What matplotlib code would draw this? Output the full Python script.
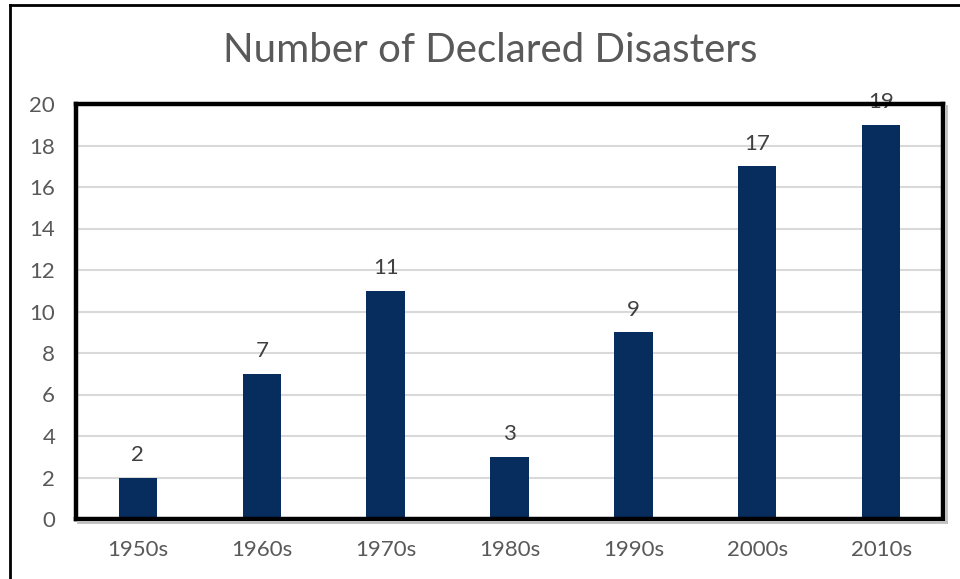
import matplotlib
matplotlib.use("Agg")
import matplotlib.pyplot as plt
from matplotlib.lines import Line2D
import numpy as np

categories = ["1950s", "1960s", "1970s", "1980s", "1990s", "2000s", "2010s"]
values = [2, 7, 11, 3, 9, 17, 19]
yticks = [0, 2, 4, 6, 8, 10, 12, 14, 16, 18, 20]

plt.rcParams['font.family'] = ['Lato', 'DejaVu Sans']

fig = plt.figure(figsize=(9.6, 5.79), dpi=100)
ax = fig.add_axes([76/960, 60/579, 867/960, 415/579])

x = np.arange(len(categories))
ax.bar(x, values, width=0.31, color="#062D5E", zorder=3)
ax.set_xlim(-0.5, len(categories) - 0.5)
ax.set_ylim(0, 20)
ax.set_yticks(yticks)
ax.set_yticklabels([str(t) for t in yticks])
ax.set_xticks(x)
ax.set_xticklabels(categories)
ax.tick_params(axis='both', length=0, labelsize=16, labelcolor="#595959")
ax.tick_params(axis='y', pad=15)
ax.tick_params(axis='x', pad=15)
ax.grid(axis='y', color="#D9D9D9", linewidth=1.5, zorder=0)
ax.set_axisbelow(True)
for s in ax.spines.values():
    s.set_linewidth(3.2)
    s.set_color("black")
    s.set_zorder(5)

for xi, v in zip(x, values):
    ax.annotate(str(v), (xi, v), xytext=(0, 9), textcoords="offset points",
                ha="center", va="bottom", fontsize=16, color="#404040")

fig.text(490/960, 1 - 51/579, "Number of Declared Disasters", ha="center", va="center",
         fontsize=29, color="#595959")

# shadow under plot frame
fig.add_artist(Line2D([78/960, 946/960], [1 - 522/579, 1 - 522/579], color="#BFBFBF", linewidth=2, transform=fig.transFigure))
fig.add_artist(Line2D([946/960, 946/960], [1 - 522/579, 1 - 106/579], color="#BFBFBF", linewidth=2, transform=fig.transFigure))

# outer frame
fig.add_artist(Line2D([10/960, 1.0], [1 - 5/579, 1 - 5/579], color="black", linewidth=2, transform=fig.transFigure))
fig.add_artist(Line2D([10/960, 10/960], [0, 1 - 5/579], color="black", linewidth=2, transform=fig.transFigure))

fig.savefig("out.png", dpi=100)
